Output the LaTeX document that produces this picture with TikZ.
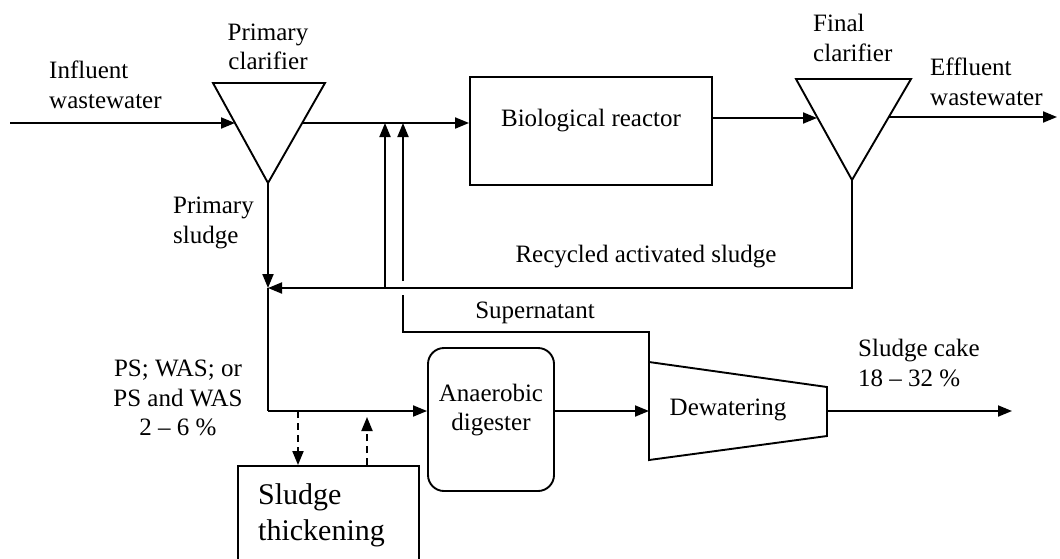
\documentclass[tikz,border=0pt]{standalone}
\usepackage{fontspec}
\setmainfont{Liberation Serif}
\usetikzlibrary{arrows.meta}
\begin{document}
\begin{tikzpicture}[x=1pt,y=-1pt,
  line/.style={line width=1.9pt},
  flow/.style={line width=1.9pt,-{Triangle[length=14pt,width=11pt]}},
  dflow/.style={line width=1.9pt,dash pattern=on 7pt off 5pt,-{Triangle[length=14pt,width=11pt]}},
  lbl/.style={font=\fontsize{25}{29.5}\selectfont, inner sep=0pt},
  biglbl/.style={font=\fontsize{30}{36}\selectfont, inner sep=0pt, align=left},
  box/.style={draw, line width=1.9pt, inner sep=0pt}
]
\useasboundingbox (0,0) rectangle (1060,558);
\clip (0,0) rectangle (1060,558);

% primary clarifier
\coordinate (pcL) at (213,83);
\coordinate (pcR) at (325,83);
\coordinate (pcB) at (268,183);
\coordinate (pcin) at (235,123);
\coordinate (pcout) at (302,123);
\draw[line, line join=miter] (pcL) -- (pcR) -- (pcB) -- cycle;

% final clarifier
\coordinate (fcL) at (796,79);
\coordinate (fcR) at (911,79);
\coordinate (fcB) at (852,180);
\coordinate (fcin) at (817,118);
\coordinate (fcout) at (889,117);
\draw[line, line join=miter] (fcL) -- (fcR) -- (fcB) -- cycle;

% biological reactor
\node[box, minimum width=242pt, minimum height=108pt] (bio) at (591,131) {};
\node[lbl] (biot) at (591,121) {Biological reactor};

% anaerobic digester
\node[box, rounded corners=16pt, minimum width=126pt, minimum height=143pt] (dig) at (491,419.5) {};
\node[lbl, align=center] (digt) at (491,410) {Anaerobic\\digester};

% sludge thickening
\node[box, minimum width=181pt, minimum height=134pt] (thick) at (328.5,533) {};
\node[biglbl, anchor=west] (thickt) at (258,515) {Sludge\\thickening};

% dewatering
\coordinate (dwTL) at (649,362);
\coordinate (dwTR) at (827,387);
\coordinate (dwBR) at (827,436);
\coordinate (dwBL) at (649,460);
\draw[line, line join=miter] (dwTL) -- (dwTR) -- (dwBR) -- (dwBL) -- cycle;
\node[lbl] (dwt) at (728,410) {Dewatering};
\coordinate (dwin) at (649,411);
\coordinate (dwout) at (827,411);

% key points
\coordinate (start) at (10,123);
\coordinate (J) at (268,288);
\coordinate (K) at (268,411);
\coordinate (R1) at (385,288);
\coordinate (S1) at (403,332);
\coordinate (S2) at (403,295);
\coordinate (S3) at (403,281);
\coordinate (effend) at (1057,117);
\coordinate (cakeend) at (1012,411);
\coordinate (D1) at (298,411);
\coordinate (D2) at (367,417);

% main flow
\draw[flow] (start) -- (pcin);
\draw[flow] (pcout) -- (pcout -| bio.west);
\draw[flow] (bio.east |- fcin) -- (fcin);
\draw[flow] (fcout) -- (effend);

% sludge lines
\draw[flow] (pcB) -- (J);
\draw[flow] (fcB) |- (J);
\draw[flow] (R1) -- (R1 |- pcout);
\draw[line] (dwTL) |- (S1) -- (S2);
\draw[flow] (S3) -- (S3 |- pcout);
\draw[line] (J) -- (K);
\draw[flow] (K) -- (K -| dig.west);
\draw[flow] (K -| dig.east) -- (dwin);
\draw[flow] (dwout) -- (cakeend);
\draw[dflow] (D1) -- (D1 |- thick.north);
\draw[dflow] (D2 |- thick.north) -- (D2);

% labels
\node[lbl, align=left, anchor=west] (l1) at (49,85) {Influent\\wastewater};
\node[lbl, align=center] (l2) at (268,47) {Primary\\clarifier};
\node[lbl, align=left, anchor=west] (l3) at (813,38) {Final\\clarifier};
\node[lbl, align=left, anchor=west] (l4) at (930,82) {Effluent\\wastewater};
\node[lbl, align=left, anchor=west] (l5) at (173,223) {Primary\\sludge};
\node[lbl] (l6) at (646,257) {Recycled activated sludge};
\node[lbl] (l7) at (535,313) {Supernatant};
\node[lbl, align=center] (l8) at (178,398) {PS; WAS; or\\PS and WAS\\2 -- 6 \%};
\node[lbl, align=left, anchor=west] (l9) at (858,363) {Sludge cake\\18 -- 32 \%};
\end{tikzpicture}
\end{document}
